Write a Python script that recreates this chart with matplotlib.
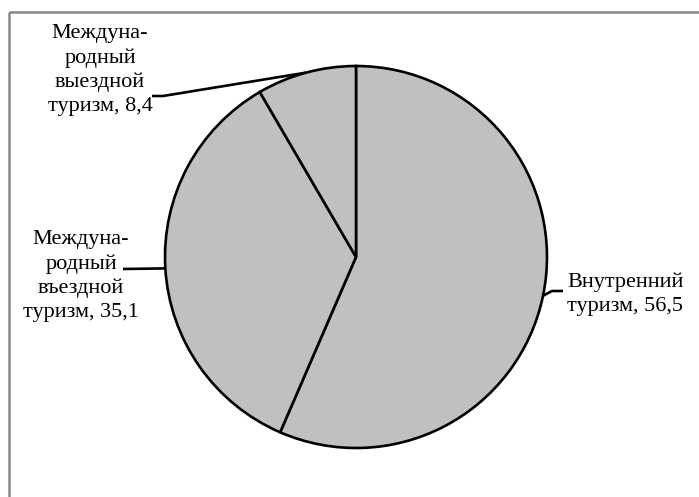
import numpy as np
import matplotlib
matplotlib.use("Agg")
import matplotlib.pyplot as plt

# shares of tourism types, %
labels = ["Внутренний\nтуризм, 56,5",
          "Междуна-\nродный\nвъездной\nтуризм, 35,1",
          "Междуна-\nродный\nвыездной\nтуризм, 8,4"]
values = [56.5, 35.1, 8.4]

W, H = 699, 497
FILL = "#c0c0c0"

plt.rcParams["font.family"] = ["Liberation Serif", "DejaVu Serif"]

fig = plt.figure(figsize=(W / 100, H / 100), dpi=100)
ax = fig.add_axes([0, 0, 1, 1])


def Y(y):
    # pixel row (from top) -> data y
    return H - y


wedges, _ = ax.pie(values, colors=[FILL] * 3, startangle=90, counterclock=False,
                   center=(356, Y(257)), radius=191,
                   wedgeprops=dict(edgecolor="black", linewidth=1.9))
ax.set_xlim(0, W)
ax.set_ylim(0, H)
ax.set_aspect("equal")
ax.axis("off")


def anchor(w):
    a = np.deg2rad((w.theta1 + w.theta2) / 2)
    cx, cy = w.center
    return cx + w.r * np.cos(a), cy + w.r * np.sin(a)


# label text positions and leader elbows (pixel coords from top)
text_pos = [(567, 294, "left"), (81, 276, "center"), (100, 70, "center")]
elbows = [[(552, 291), (563, 291)], [(123, 269)], [(163, 96), (152, 96)]]

for w, lab, (tx, ty, ha), elb in zip(wedges, labels, text_pos, elbows):
    ax0, ay0 = anchor(w)
    xs = [ax0] + [p[0] for p in elb]
    ys = [ay0] + [Y(p[1]) for p in elb]
    ax.plot(xs, ys, color="black", lw=1.9, solid_capstyle="butt")
    ax.text(tx, Y(ty), lab, ha=ha, va="center", fontsize=16,
            multialignment="center" if ha == "center" else "left",
            linespacing=1.34)

# chart-area frame (top and left edges visible)
ax.plot([9, W], [Y(12), Y(12)], color="#888888", lw=1.8, solid_capstyle="butt")
ax.plot([9, 9], [Y(12), 0], color="#888888", lw=1.8, solid_capstyle="butt")

fig.savefig("out.png", dpi=100)
